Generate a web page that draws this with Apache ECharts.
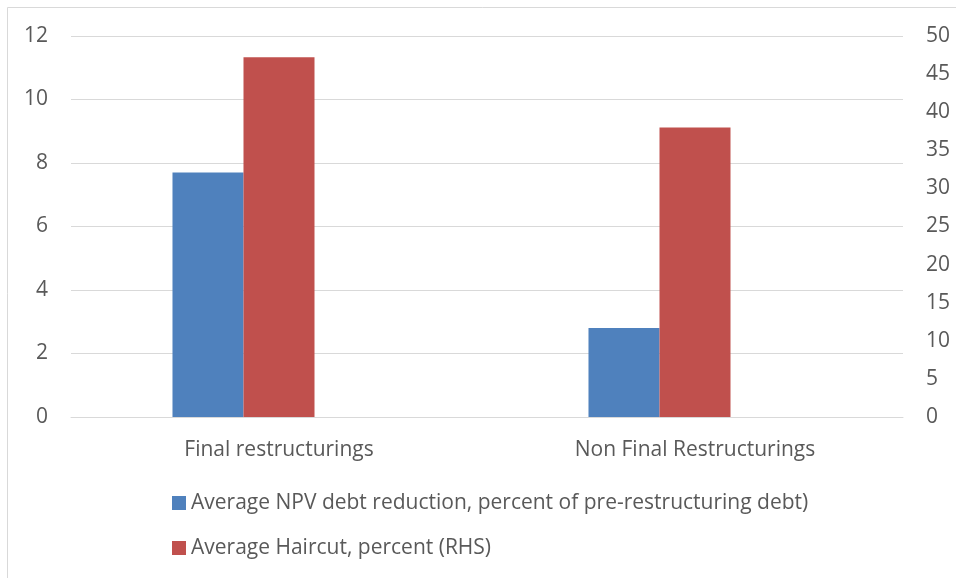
<!DOCTYPE html>
<html>
<head>
<meta charset="utf-8">
<script src="https://cdn.jsdelivr.net/npm/echarts@6/dist/echarts.min.js"></script>
<style>
  html, body { margin: 0; padding: 0; background: #fff; }
  #chart { width: 956px; height: 578px; }
</style>
</head>
<body>
<div id="chart"></div>
<script>
// Restructuring categories and the two measured averages
const categories = ['Final restructurings', 'Non Final Restructurings'];
const npvReduction = [7.7, 2.8];   // left axis
const haircut = [47.2, 38.0];      // right axis (RHS)
const seriesNames = [
  'Average NPV debt reduction, percent of pre-restructuring debt)',
  'Average Haircut, percent (RHS)'
];
const leftTicks = { min: 0, max: 12, interval: 2 };
const rightTicks = { min: 0, max: 50, interval: 5 };

const textColor = '#595959';
const lineColor = '#d9d9d9';
const font = '"Open Sans", "Noto Sans", sans-serif';
const fontSize = 21;

const chart = echarts.init(document.getElementById('chart'), null, { renderer: 'canvas' });

chart.setOption({
  animation: false,
  backgroundColor: '#ffffff',
  textStyle: { fontFamily: font },
  grid: { left: 71, right: 53, top: 36, bottom: 161, containLabel: false },
  graphic: [{
    type: 'rect',
    shape: { x: 7.5, y: 7.5, width: 980, height: 600 },
    style: { fill: 'none', stroke: lineColor, lineWidth: 1 },
    silent: true
  }],
  legend: {
    data: seriesNames,
    orient: 'vertical',
    left: 172,
    top: 492,
    padding: 0,
    itemWidth: 14,
    itemHeight: 14,
    itemGap: 23,
    icon: 'rect',
    textStyle: { color: textColor, fontSize: fontSize, fontFamily: font, lineHeight: 22 }
  },
  xAxis: {
    type: 'category',
    data: categories,
    axisLine: { show: true, lineStyle: { color: lineColor, width: 1 } },
    axisTick: { show: false },
    axisLabel: { color: textColor, fontSize: fontSize, fontFamily: font, margin: 23 }
  },
  yAxis: [
    {
      type: 'value',
      min: leftTicks.min, max: leftTicks.max, interval: leftTicks.interval,
      axisLine: { show: false },
      axisTick: { show: false },
      splitLine: { show: true, lineStyle: { color: lineColor, width: 1 } },
      axisLabel: { color: textColor, fontSize: fontSize, fontFamily: font, margin: 23 }
    },
    {
      type: 'value',
      position: 'right',
      min: rightTicks.min, max: rightTicks.max, interval: rightTicks.interval,
      axisLine: { show: false },
      axisTick: { show: false },
      splitLine: { show: false },
      axisLabel: { color: textColor, fontSize: fontSize, fontFamily: font, margin: 23 }
    }
  ],
  series: [
    {
      name: seriesNames[0],
      type: 'bar',
      yAxisIndex: 0,
      data: npvReduction,
      barWidth: '17.07%',
      barGap: '0%',
      itemStyle: { color: '#4f81bd' }
    },
    {
      name: seriesNames[1],
      type: 'bar',
      yAxisIndex: 1,
      data: haircut,
      barWidth: '17.07%',
      barGap: '0%',
      itemStyle: { color: '#c0504d' }
    },
    {
      // empty slot that keeps the pair left of each category centre
      name: 'spacer',
      type: 'bar',
      yAxisIndex: 0,
      data: [null, null],
      barWidth: '17.07%',
      barGap: '0%',
      silent: true
    }
  ]
});
</script>
</body>
</html>
